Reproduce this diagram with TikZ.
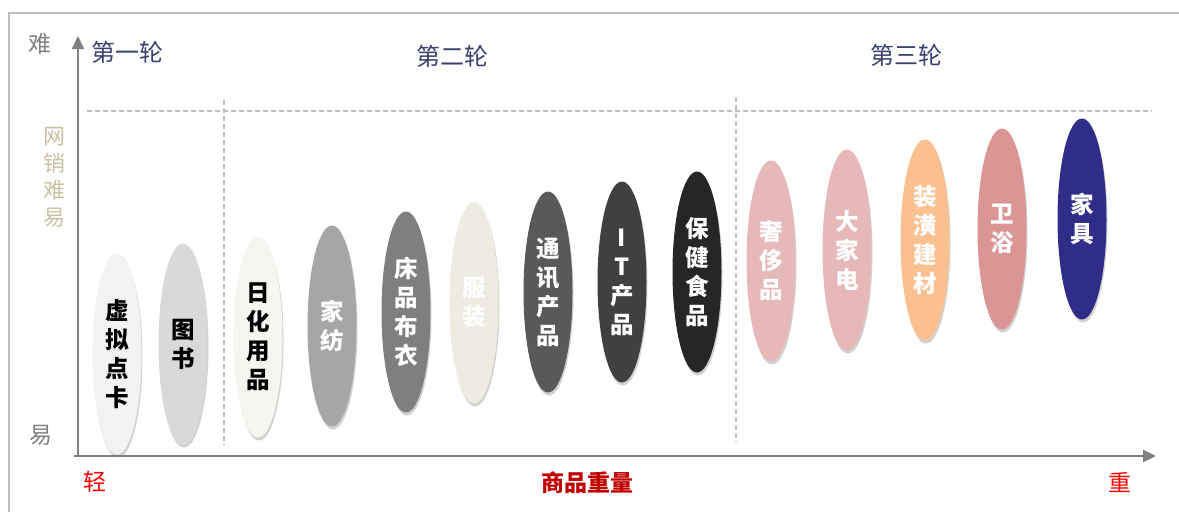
\documentclass[tikz,border=0pt]{standalone}
\usepackage{fontspec}
\newfontfamily\cjk{Noto Sans CJK SC}
\usetikzlibrary{shapes.geometric,arrows.meta,shadows}
\definecolor{frame}{HTML}{BFBFBF}
\definecolor{axis}{HTML}{808080}
\definecolor{dash}{HTML}{BFBFBF}
\definecolor{navy}{HTML}{3C406E}
\definecolor{tan}{HTML}{C9C1A1}
\definecolor{dred}{HTML}{C00000}
\definecolor{cA}{HTML}{F2F2F2}
\definecolor{cB}{HTML}{D9D9D9}
\definecolor{cC}{HTML}{F6F5F0}
\definecolor{cD}{HTML}{A6A6A6}
\definecolor{cE}{HTML}{7F7F7F}
\definecolor{cF}{HTML}{EEECE1}
\definecolor{cG}{HTML}{595959}
\definecolor{cH}{HTML}{404040}
\definecolor{cI}{HTML}{262626}
\definecolor{cJ}{HTML}{E6B9B8}
\definecolor{cK}{HTML}{FAC090}
\definecolor{cL}{HTML}{D99694}
\definecolor{cM}{HTML}{2E2E88}
\tikzset{
  prod/.style={ellipse, minimum width=49pt, minimum height=201pt, inner sep=0pt,
    align=center, font=\cjk\bfseries\fontsize{23.5}{29}\selectfont,
    drop shadow={shadow xshift=1pt, shadow yshift=-3pt, opacity=0.18, fill=black}},
  darktxt/.style={text=black},
  lighttxt/.style={text=white},
  round/.style={font=\cjk\fontsize{24}{28}\selectfont, text=navy},
  axlab/.style={font=\cjk\fontsize{23}{27}\selectfont, text=axis},
  wlab/.style={font=\cjk\fontsize{23}{27}\selectfont, text=red},
  dline/.style={draw=dash, line width=1.5pt, dash pattern=on 5pt off 3pt},
  axline/.style={draw=axis, line width=2pt, -{Triangle[length=13pt,width=12pt]}}
}
\begin{document}
\begin{tikzpicture}[x=1pt,y=-1pt]
\useasboundingbox (0,0) rectangle (1179,512);
% frame
\coordinate (f1) at (9,512);
\coordinate (f2) at (9,13);
\coordinate (f3) at (1179,13);
\draw[frame, line width=1.5pt] (f1) -- (f2) -- (f3);
% dashed guides
\coordinate (h1) at (87,111);
\coordinate (h2) at (1152,111);
\draw[dline] (h1) -- (h2);
\coordinate (v1a) at (224,100);
\coordinate (v1b) at (224,445);
\draw[dline] (v1a) -- (v1b);
\coordinate (v2a) at (736,97);
\coordinate (v2b) at (736,442);
\draw[dline] (v2a) -- (v2b);
% products
\node[prod, fill=cA, darktxt] (p1) at (117,354) {虚\\拟\\点\\卡};
\node[prod, fill=cB, darktxt] (p2) at (183,344) {图\\书};
\node[prod, fill=cC, darktxt] (p3) at (258,337) {日\\化\\用\\品};
\node[prod, fill=cD, lighttxt] (p4) at (332,326) {家\\纺};
\node[prod, fill=cE, lighttxt] (p5) at (406,312) {床\\品\\布\\衣};
\node[prod, fill=cF, lighttxt] (p6) at (474,303) {服\\装};
\node[prod, fill=cG, lighttxt] (p7) at (548,292) {通\\讯\\产\\品};
\node[prod, fill=cH, lighttxt] (p8) at (622,282) {I\\T\\产\\品};
\node[prod, fill=cI, lighttxt] (p9) at (697,272) {保\\健\\食\\品};
\node[prod, fill=cJ, lighttxt] (p10) at (771,261) {奢\\侈\\品};
\node[prod, fill=cJ, lighttxt] (p11) at (847,250) {大\\家\\电};
\node[prod, fill=cK, lighttxt] (p12) at (925,240) {装\\潢\\建\\材};
\node[prod, fill=cL, lighttxt] (p13) at (1002,229) {卫\\浴};
\node[prod, fill=cM, lighttxt] (p14) at (1082,219) {家\\具};
% axes
\coordinate (o) at (78,456);
\coordinate (ox) at (74,456);
\coordinate (ytop) at (78,36);
\coordinate (xend) at (1156,456);
\draw[axline] (o) -- (ytop);
\draw[axline] (ox) -- (xend);
% labels
\node[axlab] (hard) at (40,44) {难};
\node[axlab] (easy) at (41,435) {易};
\node[font=\cjk\fontsize{22}{27}\selectfont, text=tan, align=center] (ylab) at (54,177) {网\\销\\难\\易};
\node[round] (r1) at (127,52) {第一轮};
\node[round] (r2) at (452,56) {第二轮};
\node[round] (r3) at (906,55) {第三轮};
\node[wlab] (light) at (95,482) {轻};
\node[wlab] (heavy) at (1120,482) {重};
\node[font=\cjk\bfseries\fontsize{23}{27}\selectfont, text=dred] (xlab) at (587,483) {商品重量};
\end{tikzpicture}
\end{document}
